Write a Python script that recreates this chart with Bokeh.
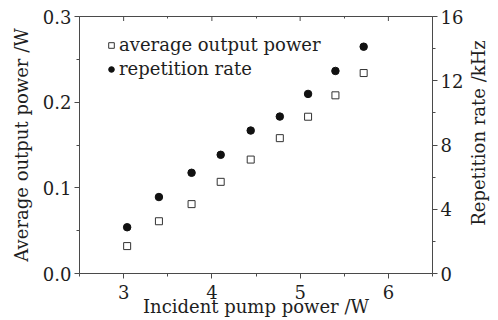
import math
from bokeh.plotting import figure
from bokeh.layouts import row
from bokeh.models import (Range1d, LinearAxis, FixedTicker, Label, Legend, LegendItem,
                          CustomJSTickFormatter)
from bokeh.embed import file_html
from bokeh.resources import INLINE

# ---- data ----
pump_power = [3.04, 3.40, 3.77, 4.10, 4.44, 4.77, 5.09, 5.40, 5.72]
avg_output_power = [0.032, 0.061, 0.081, 0.107, 0.133, 0.158, 0.183, 0.208, 0.234]
repetition_rate = [2.88, 4.76, 6.27, 7.39, 8.90, 9.77, 11.18, 12.61, 14.12]

x_ticks = [3, 4, 5, 6]
x_minor = [2.5, 3.5, 4.5, 5.5, 6.5]
y_ticks = [0.0, 0.1, 0.2, 0.3]
y_minor = [0.05, 0.15, 0.25]
r_ticks = [0, 4, 8, 12, 16]
r_minor = [2, 6, 10, 14]

FONT = "DejaVu Serif"
FS = "18px"
AX = "#4a4a4a"
TXT = "#1e1e1e"

H = 320
p = figure(width=466, height=H, output_backend="svg", toolbar_location=None,
           x_range=Range1d(2.5, 6.5), y_range=Range1d(0, 0.3),
           min_border_left=79, min_border_right=34, min_border_top=16,
           min_border_bottom=47)
p.outline_line_color = None
p.xgrid.visible = False
p.ygrid.visible = False
p.background_fill_color = "white"
p.border_fill_color = "white"

p.extra_y_ranges = {"rate": Range1d(0, 16)}


def style(ax, ticks, minor):
    ax.ticker = FixedTicker(ticks=ticks, minor_ticks=minor)
    ax.axis_line_color = AX
    ax.major_tick_line_color = AX
    ax.minor_tick_line_color = AX
    ax.major_tick_in = 0
    ax.major_tick_out = 5
    ax.minor_tick_in = 0
    ax.minor_tick_out = 3
    ax.major_label_text_font = FONT
    ax.major_label_text_font_size = FS
    ax.major_label_text_color = TXT
    ax.axis_label_text_font = FONT
    ax.axis_label_text_font_size = FS
    ax.axis_label_text_font_style = "normal"
    ax.axis_label_text_color = TXT


xa = p.xaxis[0]
style(xa, x_ticks, x_minor)
xa.axis_label = "Incident pump power /W"
xa.major_label_standoff = 6
xa.axis_label_standoff = -6

ya = p.yaxis[0]
style(ya, y_ticks, y_minor)
ya.axis_label = "Average output power /W"
ya.major_label_standoff = 3
ya.axis_label_standoff = 8
ya.formatter = CustomJSTickFormatter(code="return tick.toFixed(1);")

ra = LinearAxis(y_range_name="rate")
style(ra, r_ticks, r_minor)
ra.major_label_standoff = 3
p.add_layout(ra, "right")

# top frame line with inward minor ticks (no labels)
ta = LinearAxis()
ta.ticker = FixedTicker(ticks=[], minor_ticks=x_minor)
ta.axis_line_color = AX
ta.minor_tick_line_color = AX
ta.minor_tick_in = 2
ta.minor_tick_out = 0
ta.major_tick_in = 0
ta.major_tick_out = 0
ta.major_label_standoff = 0
p.add_layout(ta, "above")

# inward major ticks on the top frame (half of the dash is clipped by the frame)
p.scatter(x_ticks, [p.y_range.end] * len(x_ticks), marker="dash", angle=math.pi / 2,
          size=9, line_color=AX, line_width=1)

sq = p.scatter(pump_power, avg_output_power, marker="square", size=7,
               fill_color="white", line_color="#333333", line_width=1)
ci = p.scatter(pump_power, repetition_rate, marker="circle", size=7.5,
               fill_color="#111111", line_color="#111111", y_range_name="rate")

legend = Legend(items=[LegendItem(label="average output power", renderers=[sq]),
                       LegendItem(label="repetition rate", renderers=[ci])],
                location=(25, 194), margin=0, padding=0, spacing=3,
                glyph_width=14, glyph_height=20, label_height=20,
                label_standoff=1, border_line_color=None,
                background_fill_alpha=0,
                label_text_font=FONT, label_text_font_size=FS,
                label_text_color=TXT)
p.add_layout(legend, "center")

# right-hand axis title, reading bottom to top
SW = 32
side = figure(width=SW, height=H, output_backend="svg", toolbar_location=None,
              x_range=Range1d(0, SW), y_range=Range1d(0, H),
              min_border=0, outline_line_color=None)
side.axis.visible = False
side.grid.visible = False
side.add_layout(Label(x=12, y=H - 145, text="Repetition rate /kHz", text_font=FONT,
                      text_font_size=FS, text_color=TXT, angle=math.pi / 2,
                      text_align="center", text_baseline="middle"))

layout = row(p, side)
open("out.html", "w").write(file_html(layout, INLINE))
